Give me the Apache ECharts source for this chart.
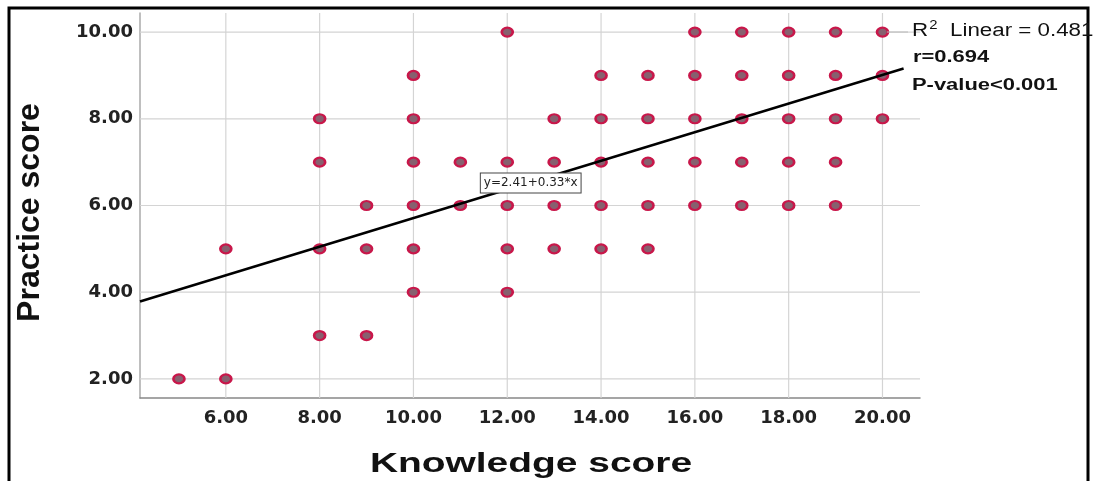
<!DOCTYPE html>
<html><head><meta charset="utf-8">
<script src="https://cdn.jsdelivr.net/npm/echarts@6/dist/echarts.min.js"></script>
<style>html,body{margin:0;padding:0;background:#fff}#c{width:1095px;height:481px}</style>
</head><body><div id="c"></div>
<script>
// Observed (knowledge, practice) pairs, one per plotted point
const rowY10 = [12, 16, 17, 18, 19, 20];
const rowY9 = [10, 14, 15, 16, 17, 18, 19, 20];
const rowY8 = [8, 10, 13, 14, 15, 16, 17, 18, 19, 20];
const rowY7 = [8, 10, 11, 12, 13, 14, 15, 16, 17, 18, 19];
const rowY6 = [9, 10, 11, 12, 13, 14, 15, 16, 17, 18, 19];
const rowY5 = [6, 8, 9, 10, 12, 13, 14, 15];
const rowY4 = [10, 12];
const rowY3 = [8, 9];
const rowY2 = [5, 6];
const rowLevels = [10, 9, 8, 7, 6, 5, 4, 3, 2];
const rows = [rowY10, rowY9, rowY8, rowY7, rowY6, rowY5, rowY4, rowY3, rowY2];
const intercept = 2.41;
const slope = 0.33;
const fitRange = [4.17, 20.45];
const xTicks = [6, 8, 10, 12, 14, 16, 18, 20];
const yTicks = [2, 4, 6, 8, 10];
const xTitle = 'Knowledge score';
const yTitle = 'Practice score';

const points = [];
rows.forEach((r, i) => r.forEach(x => points.push([x, rowLevels[i]])));
const fitLine = fitRange.map(x => [x, intercept + slope * x]);

const chart = echarts.init(document.getElementById('c'));
const font = 'Liberation Sans, Arial, sans-serif';
const wide = 'DejaVu Sans, sans-serif';
chart.setOption({
  animation: false,
  grid: {left: 140, right: 175, top: 13, bottom: 83},
  xAxis: {
    type: 'value', min: 4.17, max: 20.8,
    axisLine: {lineStyle: {color: '#888', width: 1.5}},
    axisTick: {show: false},
    splitLine: {show: false},
    axisLabel: {
      customValues: xTicks, formatter: v => v.toFixed(2), margin: 11,
      fontFamily: wide, fontWeight: 'bold', fontSize: 18, color: '#222'
    }
  },
  yAxis: {
    type: 'value', min: 1.56, max: 10.44,
    name: yTitle, nameLocation: 'middle', nameGap: 94,
    nameTextStyle: {fontFamily: font, fontWeight: 'bold', fontSize: 32, color: '#111', padding: [0, 14, 0, 0]},
    axisLine: {show: true, lineStyle: {color: '#aaa', width: 1.5}},
    axisTick: {show: false},
    splitLine: {show: false},
    axisLabel: {
      customValues: yTicks, formatter: v => v.toFixed(2), margin: 7,
      fontFamily: wide, fontWeight: 'bold', fontSize: 18, color: '#222'
    }
  },
  series: [
    {
      type: 'line', data: xTicks.flatMap(x => [[x, 1.56], [x, 10.44], [x, null]]),
      symbol: 'none', connectNulls: false, silent: true,
      lineStyle: {color: '#d4d4d4', width: 1.2}, z: 1
    },
    {
      type: 'line', data: yTicks.flatMap(y => [[4.17, y], [20.8, y], [null, y]]),
      symbol: 'none', connectNulls: false, silent: true,
      lineStyle: {color: '#d4d4d4', width: 1.2}, z: 1
    },
    {
      type: 'scatter', data: points, symbol: 'circle', symbolSize: [11, 9],
      itemStyle: {color: '#87606f', borderColor: '#c8174a', borderWidth: 2.4, opacity: 1},
      z: 3
    },
    {
      type: 'line', data: fitLine, symbol: 'none',
      lineStyle: {color: '#000', width: 2.5}, z: 4,
      markPoint: {
        symbol: 'rect', symbolSize: 0,
        data: [{coord: [12.5, 6.52]}],
        label: {
          show: true, position: 'inside', formatter: 'y=2.41+0.33*x',
          fontFamily: wide, fontSize: 12, color: '#222',
          backgroundColor: '#fff', borderColor: '#444', borderWidth: 1,
          padding: [4, 3, 3, 3]
        }
      }
    }
  ],
  graphic: [
    {type: 'rect', shape: {x: 9, y: 8, width: 1079, height: 490},
     style: {fill: null, stroke: '#000', lineWidth: 3}, z: 10},
    {type: 'line', shape: {x1: 887, y1: 32, x2: 908, y2: 32},
     style: {stroke: '#bbb', lineWidth: 1}, z: 10},
    {type: 'text', x: 531, y: 464, scaleX: 1.39, z: 10,
     style: {text: xTitle, fontFamily: font, fontWeight: 'bold', fontSize: 28, fill: '#111',
             align: 'center', verticalAlign: 'middle'}},
    {type: 'text', x: 912, y: 31, scaleX: 1.24, z: 10,
     style: {
       text: '{a|R}{s|2}{a|  Linear = 0.481}', verticalAlign: 'middle',
       rich: {
         a: {fontFamily: font, fontSize: 18, fill: '#111'},
         s: {fontFamily: font, fontSize: 12, fill: '#111', verticalAlign: 'top', padding: [0, 0, 10, 1]}
       }
     }},
    {type: 'text', x: 913, y: 58, scaleX: 1.37, z: 10,
     style: {text: 'r=0.694', fontFamily: font, fontWeight: 'bold', fontSize: 16, fill: '#111', verticalAlign: 'middle'}},
    {type: 'text', x: 912, y: 86, scaleX: 1.37, z: 10,
     style: {text: 'P-value<0.001', fontFamily: font, fontWeight: 'bold', fontSize: 16, fill: '#111', verticalAlign: 'middle'}}
  ]
});
</script></body></html>
